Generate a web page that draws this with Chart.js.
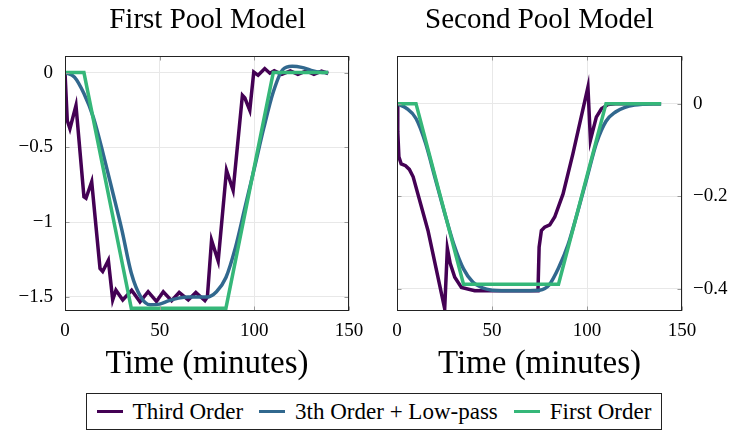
<!DOCTYPE html>
<html lang="en">
<head>
<meta charset="UTF-8">
<title>Pool Models</title>
<style>
  body { margin: 0; background: #fff; width: 747px; height: 439px; position: relative; overflow: hidden;
         font-family: 'Liberation Serif', 'Times New Roman', serif; }
  canvas { position: absolute; top: 0; }
  #c1 { left: 0; }
  #c2 { left: 332px; }
  #legend { position: absolute; left: 86px; top: 393px; width: 574px; height: 35px; border: 1px solid #222;
            display: flex; align-items: center; justify-content: center; font-size: 23px; color: #000; }
  .item { display: flex; align-items: center; margin: 0 8px; }
  .sw { width: 26px; height: 3px; margin-right: 10px; }
</style>
<script src="https://cdn.jsdelivr.net/npm/chart.js"></script>
</head>
<body>
<canvas id="c1" width="415" height="384"></canvas>
<canvas id="c2" width="415" height="384"></canvas>
<div id="legend"></div>
<script>
// ---- data ----
const titles = ['First Pool Model', 'Second Pool Model'];
const xTitle = 'Time (minutes)';
const seriesNames = ['Third Order', '3th Order + Low-pass', 'First Order'];
const colors = ['#440154', '#31688e', '#35b779'];

const xTicks = [0, 50, 100, 150];
const pool1YTicks = [0, -0.5, -1, -1.5];
const pool2YTicks = [0, -0.2, -0.4];

// first pool
const p1ThirdT = [0, 1.2, 2.6, 5.8, 10, 11.1, 14.1, 18.5, 19.9, 22.9, 25.2, 26.9, 30.5, 35.2, 39.6, 43.9, 48.3, 51.9,
                  56.3, 60.3, 65.1, 69.1, 73.9, 75.2, 77.4, 80.9, 85.3, 88.8, 93.7, 95, 97.6, 99.7, 102, 105.5, 108.2,
                  110.5, 114.5, 119, 123, 127.5, 131.5, 135.5, 139];
const p1ThirdY = [0, -0.32, -0.375, -0.22, -0.83, -0.84, -0.73, -1.31, -1.33, -1.255, -1.52, -1.455, -1.52, -1.455, -1.533, -1.465, -1.53, -1.465,
                  -1.525, -1.47, -1.52, -1.47, -1.525, -1.5, -1.12, -1.26, -0.653, -0.787, -0.152, -0.17, -0.252, 0.004, -0.018, 0.027, -0.004,
                  0.012, -0.012, 0.012, -0.012, 0.012, -0.012, 0.01, -0.006];
const p1LowT = [0, 5, 10, 15, 20, 25, 30, 35, 40, 45, 50, 55, 60, 65, 70, 75, 80, 85, 90, 95, 100, 105, 110, 115, 120, 125, 130, 135, 139];
const p1LowY = [0, -0.03, -0.14, -0.3, -0.535, -0.79, -1.05, -1.34, -1.5, -1.553, -1.548, -1.525, -1.508, -1.5, -1.5, -1.5,
                -1.465, -1.37, -1.17, -0.905, -0.64, -0.37, -0.13, 0.02, 0.042, 0.035, 0.015, 0.002, 0];
const p1FirstT = [0, 10, 35, 85, 110, 139];
const p1FirstY = [0, 0, -1.575, -1.575, 0, 0];

// second pool
const p2ThirdT = [0, 0.4, 1.0, 2.2, 4.5, 6.5, 8.5, 16.3, 25.1, 26.5, 28, 30.4, 33.9, 40.9, 74.2, 74.8, 76, 77.7, 80.4, 83,
                  87.4, 92.6, 100.5, 101.8, 104.9, 107.6, 111, 115, 139];
const p2ThirdY = [0, -0.06, -0.115, -0.13, -0.134, -0.142, -0.158, -0.274, -0.443, -0.313, -0.345, -0.375, -0.397, -0.404, -0.404, -0.31, -0.274, -0.267, -0.262, -0.245,
                  -0.195, -0.108, 0.036, -0.079, -0.029, -0.011, -0.002, 0, 0];
const p2LowT = [0, 5, 10, 15, 20, 25, 30, 35, 40, 45, 50, 55, 60, 65, 70, 75, 80, 85, 90, 95, 100, 105, 110, 115, 120, 125, 130, 135, 139];
const p2LowY = [0, -0.01, -0.032, -0.085, -0.16, -0.235, -0.305, -0.357, -0.386, -0.398, -0.403, -0.404, -0.404, -0.404, -0.404, -0.403,
                -0.392, -0.355, -0.305, -0.235, -0.16, -0.085, -0.038, -0.018, -0.008, -0.003, -0.001, 0, 0];
const p2FirstT = [0, 10, 35, 85, 110, 139];
const p2FirstY = [0, 0, -0.39, -0.39, 0, 0];

// ---- drawing ----
const FONT = "'Liberation Serif', 'Times New Roman', serif";

function pts(t, y) { return t.map((v, i) => ({ x: v, y: y[i] })); }
function fmt(v) { return v < 0 ? '\u2212' + Math.abs(v) : String(v); }

// black box round the plot plus small inner ticks, like pgfplots
const framePlugin = {
  id: 'frame',
  afterDatasetsDraw(chart) {
    const { ctx, chartArea: a, scales } = chart;
    const L = Math.round(a.left) + 0.5, R = Math.round(a.right) - 0.5;
    const T = Math.round(a.top) + 0.5, B = Math.round(a.bottom) - 0.5;
    ctx.save();
    ctx.strokeStyle = '#999';
    ctx.lineWidth = 1;
    ctx.beginPath();
    scales.x.ticks.forEach(t => {
      const p = Math.round(scales.x.getPixelForValue(t.value)) + 0.5;
      ctx.moveTo(p, T); ctx.lineTo(p, T + 4);
      ctx.moveTo(p, B); ctx.lineTo(p, B - 4);
    });
    scales.y.ticks.forEach(t => {
      const p = Math.round(scales.y.getPixelForValue(t.value)) + 0.5;
      ctx.moveTo(L, p); ctx.lineTo(L + 4, p);
      ctx.moveTo(R, p); ctx.lineTo(R - 4, p);
    });
    ctx.stroke();
    ctx.strokeStyle = '#222';
    ctx.strokeRect(L, T, R - L, B - T);
    ctx.restore();
  }
};

function makeChart(id, title, series, yTicks, yMin, yMax, yPos) {
  const datasets = series.map((s, i) => ({
    label: seriesNames[i],
    data: s,
    borderColor: colors[i],
    backgroundColor: colors[i],
    borderWidth: 3.5,
    pointRadius: 0,
    tension: 0,
    cubicInterpolationMode: i === 1 ? 'monotone' : 'default',
    order: 3 - i
  }));
  return new Chart(document.getElementById(id), {
    type: 'line',
    data: { datasets },
    options: {
      responsive: false,
      animation: false,
      layout: { padding: 0 },
      plugins: {
        legend: { display: false },
        tooltip: { enabled: false },
        title: { display: true, text: title, color: '#000',
                 font: { family: FONT, size: 29, weight: 'normal' }, padding: { top: 3, bottom: 18.2 } }
      },
      scales: {
        x: {
          type: 'linear', min: 0, max: 150,
          afterBuildTicks: s => { s.ticks = xTicks.map(v => ({ value: v })); },
          afterFit: s => { s.height = 73; },
          grid: { color: '#e8e8e8', drawTicks: false },
          border: { display: false },
          ticks: { color: '#000', padding: 9, maxRotation: 0, font: { family: FONT, size: 19 }, callback: fmt },
          title: { display: true, text: xTitle, color: '#000', font: { family: FONT, size: 33 }, padding: { top: 0, bottom: 0 } }
        },
        y: {
          position: yPos, min: yMin, max: yMax,
          afterBuildTicks: s => { s.ticks = yTicks.map(v => ({ value: v })); },
          afterFit: s => { s.width = 65; },
          grid: { color: '#e8e8e8', drawTicks: false },
          border: { display: false },
          ticks: { color: '#000', padding: yPos === 'left' ? 12 : 11, font: { family: FONT, size: 19 }, callback: fmt }
        },
        // empty spacer on the other side so the title centres over the plot
        pad: {
          position: yPos === 'left' ? 'right' : 'left',
          afterFit: s => { s.width = yPos === 'left' ? 66 : 65; },
          ticks: { display: false },
          grid: { display: false, drawTicks: false },
          border: { display: false }
        }
      }
    },
    plugins: [framePlugin]
  });
}

makeChart('c1', titles[0],
  [pts(p1ThirdT, p1ThirdY), pts(p1LowT, p1LowY), pts(p1FirstT, p1FirstY)],
  pool1YTicks, -1.594, 0.111, 'left');
makeChart('c2', titles[1],
  [pts(p2ThirdT, p2ThirdY), pts(p2LowT, p2LowY), pts(p2FirstT, p2FirstY)],
  pool2YTicks, -0.448, 0.103, 'right');

// shared legend under both plots
const legend = document.getElementById('legend');
seriesNames.forEach((name, i) => {
  const item = document.createElement('div');
  item.className = 'item';
  const sw = document.createElement('span');
  sw.className = 'sw';
  sw.style.background = colors[i];
  item.appendChild(sw);
  item.appendChild(document.createTextNode(name));
  legend.appendChild(item);
});
</script>
</body>
</html>
